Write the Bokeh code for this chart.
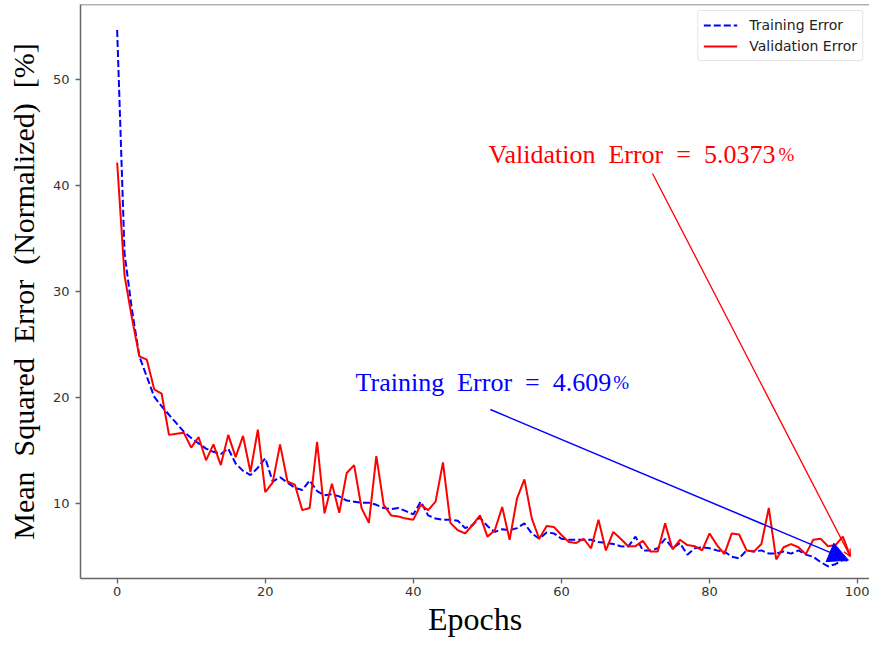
from bokeh.plotting import figure
from bokeh.models import Arrow, NormalHead, OpenHead, Span, FixedTicker, Range1d, Label
from bokeh.embed import file_html
from bokeh.resources import INLINE

epochs = list(range(100))

training_error = [
    54.7, 33.6, 28.3, 23.9, 22.0, 20.1, 19.2, 18.4, 17.6, 16.8,
    16.2, 15.7, 15.2, 14.9, 14.7, 15.2, 13.8, 13.1, 12.7, 13.4,
    14.3, 12.1, 12.5, 12.0, 11.5, 11.3, 12.2, 11.2, 10.8, 10.9,
    10.7, 10.3, 10.2, 10.1, 10.1, 9.9, 9.6, 9.5, 9.6, 9.3,
    9.0, 10.2, 8.9, 8.6, 8.5, 8.5, 8.4, 7.7, 8.0, 8.7,
    7.9, 7.35, 7.6, 7.5, 7.7, 8.15, 7.2, 6.7, 7.3, 7.2,
    6.7, 6.6, 6.6, 6.6, 6.6, 6.4, 6.3, 6.2, 6.0, 5.95,
    6.9, 5.6, 5.6, 5.8, 6.7, 5.8, 6.3, 5.2, 5.8, 5.9,
    5.8, 5.6, 5.5, 5.0, 4.85, 5.6, 5.5, 5.6, 5.3, 5.3,
    5.5, 5.3, 5.6, 5.2, 5.0, 4.5, 4.1, 4.3, 4.7, 4.609,
]

validation_error = [
    42.2, 31.5, 27.5, 23.9, 23.6, 20.8, 20.4, 16.5, 16.6, 16.7,
    15.3, 16.3, 14.1, 15.6, 13.65, 16.5, 14.4, 16.4, 13.0, 17.0,
    11.1, 12.0, 15.6, 12.1, 11.8, 9.4, 9.6, 15.85, 9.1, 11.9,
    9.15, 12.9, 13.65, 9.6, 8.2, 14.5, 9.9, 8.9, 8.8, 8.6,
    8.5, 9.9, 9.4, 10.2, 13.9, 8.2, 7.5, 7.2, 8.0, 8.9,
    6.9, 7.5, 9.7, 6.6, 10.5, 12.3, 8.6, 6.7, 7.9, 7.8,
    7.05, 6.4, 6.3, 6.7, 5.8, 8.5, 5.6, 7.35, 6.7, 6.0,
    6.0, 6.5, 5.5, 5.5, 8.15, 5.7, 6.6, 6.1, 6.0, 5.6,
    7.2, 6.1, 5.25, 7.2, 7.1, 5.6, 5.5, 6.2, 9.6, 4.75,
    5.9, 6.2, 5.9, 5.25, 6.6, 6.7, 6.0, 6.1, 6.9, 5.0373,
]

x_ticks = [0, 20, 40, 60, 80, 100]
y_ticks = [10, 20, 30, 40, 50]

SP = "\u00a0\u00a0"
train_text = SP.join(["Training", "Error", "=", "4.609"])
val_text = SP.join(["Validation", "Error", "=", "5.0373"])
y_label = SP.join(["Mean", "Squared", "Error", "(Normalized)", "[%]"])
x_label = "Epochs"

SERIF = "Liberation Serif"
SANS = "DejaVu Sans"

Y_TOP = 57.1
p = figure(width=869, height=641, output_backend="svg", toolbar_location=None,
           x_range=Range1d(-4.95, 101.6), y_range=Range1d(2.95, Y_TOP),
           min_border_left=80, min_border_right=0, min_border_top=4, min_border_bottom=63)
p.outline_line_color = None
p.grid.visible = False
p.background_fill_color = "white"
p.border_fill_color = "white"

p.line(epochs, training_error, line_color="#0000ff", line_width=2, line_dash="7 3",
       legend_label="Training Error")
p.line(epochs, validation_error, line_color="#ff0000", line_width=2,
       legend_label="Validation Error")

# top spine
p.add_layout(Span(location=Y_TOP, dimension="width", line_color="#666666", line_width=1.5))

for ax in (p.xaxis[0], p.yaxis[0]):
    ax.axis_line_color = "#666666"
    ax.axis_line_width = 1.5
    ax.major_tick_line_color = "#666666"
    ax.major_tick_line_width = 1.3
    ax.major_tick_out = 5
    ax.major_tick_in = 0
    ax.minor_tick_line_color = None
    ax.major_label_text_font = SANS
    ax.major_label_text_font_size = "13px"
    ax.major_label_text_color = "#333333"
    ax.axis_label_text_font = SERIF
    ax.axis_label_text_font_style = "normal"
    ax.axis_label_text_color = "black"

p.xaxis.ticker = FixedTicker(ticks=x_ticks)
p.yaxis.ticker = FixedTicker(ticks=y_ticks)
p.xaxis.major_label_standoff = 3
p.yaxis.major_label_standoff = 6
p.xaxis.axis_label = x_label
p.yaxis.axis_label = y_label
p.xaxis.axis_label_text_font_size = "32px"
p.yaxis.axis_label_text_font_size = "30px"
p.xaxis.axis_label_standoff = 2
p.yaxis.axis_label_standoff = 10

# annotations
p.add_layout(Label(x=50.15, y=42.95, text=val_text, text_font=SERIF, text_font_size="26px",
                   text_color="#ff0000", text_baseline="alphabetic"))
p.add_layout(Label(x=89.3, y=42.95, text="%", text_font=SERIF, text_font_size="19px",
                   text_color="#ff0000", text_baseline="alphabetic"))
p.add_layout(Label(x=32.2, y=21.4, text=train_text, text_font=SERIF, text_font_size="26px",
                   text_color="#0000ff", text_baseline="alphabetic"))
p.add_layout(Label(x=67.0, y=21.4, text="%", text_font=SERIF, text_font_size="19px",
                   text_color="#0000ff", text_baseline="alphabetic"))

tx, ty = 50.4, 18.89
ex, ey = epochs[-1], training_error[-1]
p.add_layout(Arrow(x_start=tx, y_start=ty,
                   x_end=tx + (ex - tx) * 0.995, y_end=ty + (ey - ty) * 0.995,
                   line_color="#0000ff", line_width=1.5,
                   end=NormalHead(size=20, fill_color="#0000ff", line_color="#0000ff")))
vx, vy = 72.3, 41.16
ex2, ey2 = epochs[-1], validation_error[-1]
p.add_layout(Arrow(x_start=vx, y_start=vy, x_end=ex2, y_end=ey2,
                   line_color="#ff0000", line_width=1.3,
                   end=OpenHead(size=7, line_color="#ff0000", line_width=1.3)))

leg = p.legend[0]
leg.location = "top_right"
leg.margin = 6
leg.padding = 5
leg.spacing = 3
leg.glyph_width = 34
leg.glyph_height = 18
leg.label_standoff = 12
leg.label_text_font = SANS
leg.label_text_font_size = "14px"
leg.label_text_color = "#222222"
leg.border_line_color = "#cccccc"
leg.border_line_width = 1
leg.border_radius = 3
leg.background_fill_alpha = 0.8

open("out.html", "w").write(file_html(p, INLINE))
